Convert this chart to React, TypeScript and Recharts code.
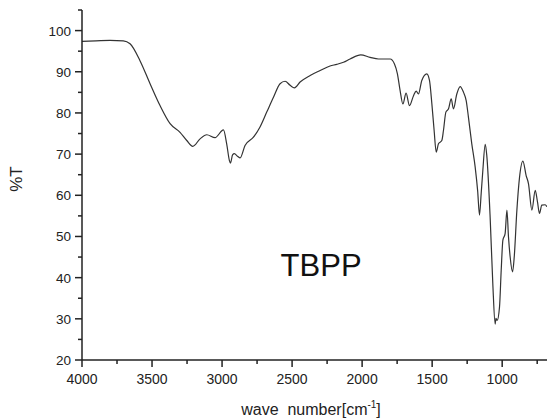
import { Line, LineChart, ReferenceDot, XAxis, YAxis, Label } from "recharts";

// IR spectrum of TBPP
const wavenumbers = [
  4000, 3900, 3800, 3705, 3657, 3586, 3514, 3443, 3371, 3300, 3252, 3209, 3157,
  3109, 3050, 2990, 2967, 2948, 2940, 2925, 2912, 2890, 2871, 2836, 2776, 2729,
  2681, 2633, 2586, 2550, 2514, 2483, 2443, 2371, 2300, 2229, 2181, 2133, 2086,
  2010, 1943, 1883, 1800, 1769, 1748, 1729, 1709, 1686, 1662, 1633, 1614, 1598,
  1574, 1538, 1519, 1502, 1486, 1471, 1455, 1431, 1419, 1402, 1383, 1364, 1348,
  1324, 1300, 1276, 1257, 1241, 1217, 1193, 1175, 1162, 1150, 1138, 1121, 1110,
  1086, 1067, 1050, 1045, 1036, 1019, 1007, 995, 979, 966, 955, 943, 926, 914,
  895, 876, 852, 829, 812, 788, 764, 748, 734, 717, 693, 681,
];
const transmittance = [
  97.4, 97.5, 97.6, 97.5, 96.8, 92.7, 87.1, 81.8, 77.4, 75.3, 73.3, 71.9, 73.7,
  74.7, 74.0, 75.9, 72.5, 68.5, 67.8, 69.8, 70.1, 69.5, 69.1, 72.1, 74.1, 76.6,
  80.2, 83.8, 87.1, 87.7, 86.7, 86.1, 87.5, 89.1, 90.3, 91.4, 91.8, 92.3, 93.1,
  94.1, 93.5, 93.1, 93.1, 91.9, 89.5, 85.5, 82.2, 84.8, 81.8, 84.2, 85.3, 84.6,
  87.9, 89.5, 87.9, 82.2, 75.8, 70.5, 72.5, 73.3, 75.8, 80.2, 81.0, 83.4, 81.0,
  84.6, 86.4, 85.0, 83.0, 79.0, 72.5, 66.9, 61.0, 55.2, 60.4, 66.1, 72.4, 69.7,
  54.7, 38.6, 28.7, 30.1, 29.6, 32.9, 41.8, 49.1, 50.7, 56.4, 49.9, 45.0, 41.4,
  45.0, 56.4, 64.4, 68.3, 64.8, 62.8, 56.4, 61.2, 58.4, 55.6, 57.6, 57.7, 57.2,
];
const xTicks = [
  4000, 3750, 3500, 3250, 3000, 2750, 2500, 2250, 2000, 1750, 1500, 1250, 1000,
  750,
];
const yTicks = [
  20, 25, 30, 35, 40, 45, 50, 55, 60, 65, 70, 75, 80, 85, 90, 95, 100, 105,
];

const data = wavenumbers.map((w, i) => ({ w, t: transmittance[i] }));

const FONT = "'Liberation Sans', Arial, sans-serif";
const INK = "#222";

function XTick({ x, y, payload }: any) {
  const major = payload.value % 500 === 0;
  return (
    <g>
      <line x1={x} x2={x} y1={y} y2={y + (major ? 7 : 4)} stroke={INK} strokeWidth={1.5} />
      {major && (
        <text x={x} y={y + 24} textAnchor="middle" fontSize={14} fill={INK} fontFamily={FONT}>
          {payload.value}
        </text>
      )}
    </g>
  );
}

function YTick({ x, y, payload }: any) {
  const major = payload.value % 10 === 0;
  return (
    <g>
      <line x1={x - (major ? 7 : 4)} x2={x} y1={y} y2={y} stroke={INK} strokeWidth={1.5} />
      {major && (
        <text x={x - 11} y={y + 5} textAnchor="end" fontSize={13.5} fill={INK} fontFamily={FONT}>
          {payload.value}
        </text>
      )}
    </g>
  );
}

export default function App() {
  return (
    <div style={{ position: "absolute", left: 0, top: 0, background: "#fff" }}>
      <LineChart
        width={547}
        height={420}
        data={data}
        margin={{ top: 10, right: 0, bottom: 0, left: 0 }}
      >
        <XAxis
          dataKey="w"
          type="number"
          domain={[680, 4000]}
          reversed
          ticks={xTicks}
          interval={0}
          tick={<XTick />}
          tickSize={0}
          tickMargin={0}
          tickLine={false}
          axisLine={{ stroke: INK, strokeWidth: 1.5 }}
          height={60}
          allowDataOverflow
        >
          <Label
            content={() => (
              <text x={311} y={415} textAnchor="middle" fontSize={16} fill={INK} fontFamily={FONT}>
                {"wave\u00a0 number[cm"}
                <tspan fontSize={10} dy={-7}>-1</tspan>
                <tspan dy={7}>]</tspan>
              </text>
            )}
          />
        </XAxis>
        <YAxis
          type="number"
          domain={[20, 105]}
          ticks={yTicks}
          interval={0}
          tick={<YTick />}
          tickSize={0}
          tickMargin={0}
          tickLine={false}
          axisLine={{ stroke: INK, strokeWidth: 1.5 }}
          width={82}
          allowDataOverflow
        >
          <Label
            content={() => (
              <text
                x={22}
                y={179}
                transform="rotate(-90 22 179)"
                textAnchor="middle"
                fontSize={17}
                fill={INK}
                fontFamily={FONT}
              >
                %T
              </text>
            )}
          />
        </YAxis>
        <ReferenceDot
          x={2293}
          y={40.4}
          r={0}
          stroke="none"
          label={(p: any) => (
            <text x={p.viewBox.x} y={p.viewBox.y} textAnchor="middle" fontSize={31} fill="#111" fontFamily={FONT}>
              TBPP
            </text>
          )}
        />
        <Line
          type="monotone"
          dataKey="t"
          stroke="#333"
          strokeWidth={1.2}
          dot={false}
          isAnimationActive={false}
        />
      </LineChart>
    </div>
  );
}
